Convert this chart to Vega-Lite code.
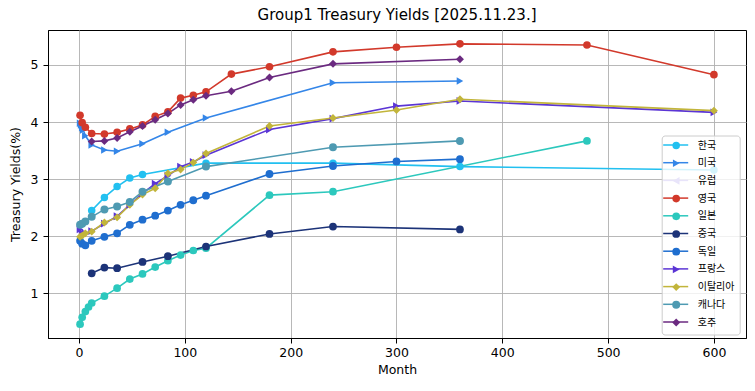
{
 "$schema": "https://vega.github.io/schema/vega-lite/v6.json",
 "width": 698, "height": 308,
 "autosize": {"type": "none"},
 "padding": {"left": 48, "top": 30, "right": 9, "bottom": 53},
 "background": "white",
 "title": {"text": "Group1 Treasury Yields [2025.11.23.]", "fontSize": 15, "font": "DejaVu Sans", "fontWeight": "normal", "color": "black", "offset": 7, "anchor": "middle"},
 "config": {
  "view": {"stroke": "black", "strokeWidth": 1},
  "axis": {"domainColor": "black", "domainWidth": 1, "tickColor": "black", "tickSize": 5, "tickWidth": 1, "grid": true, "gridColor": "#b0b0b0", "gridWidth": 0.9, "labelFont": "DejaVu Sans", "labelFontSize": 12.5, "labelColor": "black", "titleFont": "DejaVu Sans", "titleFontSize": 12.5, "titleFontWeight": "normal", "titleColor": "black"}
 },
 "data": {"values": [
  {"c":"한국","m":12,"y":2.45},{"c":"한국","m":24,"y":2.68},{"c":"한국","m":36,"y":2.87},{"c":"한국","m":48,"y":3.02},{"c":"한국","m":60,"y":3.08},{"c":"한국","m":120,"y":3.28},{"c":"한국","m":240,"y":3.28},{"c":"한국","m":360,"y":3.22},{"c":"한국","m":600,"y":3.16},
  {"c":"미국","m":1,"y":3.98},{"c":"미국","m":2,"y":3.95},{"c":"미국","m":3,"y":3.9},{"c":"미국","m":4,"y":3.86},{"c":"미국","m":6,"y":3.76},{"c":"미국","m":12,"y":3.6},{"c":"미국","m":24,"y":3.51},{"c":"미국","m":36,"y":3.49},{"c":"미국","m":60,"y":3.62},{"c":"미국","m":84,"y":3.82},{"c":"미국","m":120,"y":4.07},{"c":"미국","m":240,"y":4.69},{"c":"미국","m":360,"y":4.72},
  {"c":"영국","m":1,"y":4.12},{"c":"영국","m":3,"y":3.99},{"c":"영국","m":6,"y":3.91},{"c":"영국","m":12,"y":3.8},{"c":"영국","m":24,"y":3.79},{"c":"영국","m":36,"y":3.82},{"c":"영국","m":48,"y":3.88},{"c":"영국","m":60,"y":3.95},{"c":"영국","m":72,"y":4.1},{"c":"영국","m":84,"y":4.18},{"c":"영국","m":96,"y":4.42},{"c":"영국","m":108,"y":4.47},{"c":"영국","m":120,"y":4.53},{"c":"영국","m":144,"y":4.84},{"c":"영국","m":180,"y":4.97},{"c":"영국","m":240,"y":5.23},{"c":"영국","m":300,"y":5.31},{"c":"영국","m":360,"y":5.37},{"c":"영국","m":480,"y":5.35},{"c":"영국","m":600,"y":4.83},
  {"c":"일본","m":1,"y":0.46},{"c":"일본","m":3,"y":0.58},{"c":"일본","m":6,"y":0.68},{"c":"일본","m":9,"y":0.76},{"c":"일본","m":12,"y":0.83},{"c":"일본","m":24,"y":0.95},{"c":"일본","m":36,"y":1.09},{"c":"일본","m":48,"y":1.25},{"c":"일본","m":60,"y":1.34},{"c":"일본","m":72,"y":1.46},{"c":"일본","m":84,"y":1.57},{"c":"일본","m":96,"y":1.67},{"c":"일본","m":108,"y":1.75},{"c":"일본","m":120,"y":1.79},{"c":"일본","m":180,"y":2.72},{"c":"일본","m":240,"y":2.78},{"c":"일본","m":480,"y":3.67},
  {"c":"중국","m":12,"y":1.35},{"c":"중국","m":24,"y":1.45},{"c":"중국","m":36,"y":1.44},{"c":"중국","m":60,"y":1.55},{"c":"중국","m":84,"y":1.65},{"c":"중국","m":120,"y":1.82},{"c":"중국","m":180,"y":2.04},{"c":"중국","m":240,"y":2.17},{"c":"중국","m":360,"y":2.12},
  {"c":"독일","m":1,"y":1.92},{"c":"독일","m":3,"y":1.87},{"c":"독일","m":6,"y":1.84},{"c":"독일","m":12,"y":1.92},{"c":"독일","m":24,"y":1.99},{"c":"독일","m":36,"y":2.05},{"c":"독일","m":48,"y":2.2},{"c":"독일","m":60,"y":2.29},{"c":"독일","m":72,"y":2.36},{"c":"독일","m":84,"y":2.45},{"c":"독일","m":96,"y":2.55},{"c":"독일","m":108,"y":2.63},{"c":"독일","m":120,"y":2.71},{"c":"독일","m":180,"y":3.09},{"c":"독일","m":240,"y":3.23},{"c":"독일","m":300,"y":3.31},{"c":"독일","m":360,"y":3.35},
  {"c":"프랑스","m":1,"y":2.12},{"c":"프랑스","m":3,"y":2.04},{"c":"프랑스","m":6,"y":2.05},{"c":"프랑스","m":12,"y":2.09},{"c":"프랑스","m":24,"y":2.22},{"c":"프랑스","m":36,"y":2.35},{"c":"프랑스","m":48,"y":2.55},{"c":"프랑스","m":60,"y":2.75},{"c":"프랑스","m":72,"y":2.92},{"c":"프랑스","m":84,"y":3.06},{"c":"프랑스","m":96,"y":3.22},{"c":"프랑스","m":108,"y":3.3},{"c":"프랑스","m":120,"y":3.42},{"c":"프랑스","m":180,"y":3.87},{"c":"프랑스","m":240,"y":4.06},{"c":"프랑스","m":300,"y":4.28},{"c":"프랑스","m":360,"y":4.37},{"c":"프랑스","m":600,"y":4.17},
  {"c":"이탈리아","m":1,"y":1.99},{"c":"이탈리아","m":3,"y":2.01},{"c":"이탈리아","m":6,"y":2.05},{"c":"이탈리아","m":12,"y":2.08},{"c":"이탈리아","m":24,"y":2.24},{"c":"이탈리아","m":36,"y":2.33},{"c":"이탈리아","m":48,"y":2.55},{"c":"이탈리아","m":60,"y":2.73},{"c":"이탈리아","m":72,"y":2.84},{"c":"이탈리아","m":84,"y":3.1},{"c":"이탈리아","m":96,"y":3.17},{"c":"이탈리아","m":108,"y":3.29},{"c":"이탈리아","m":120,"y":3.45},{"c":"이탈리아","m":180,"y":3.93},{"c":"이탈리아","m":240,"y":4.07},{"c":"이탈리아","m":300,"y":4.21},{"c":"이탈리아","m":360,"y":4.4},{"c":"이탈리아","m":600,"y":4.2},
  {"c":"캐나다","m":1,"y":2.2},{"c":"캐나다","m":3,"y":2.22},{"c":"캐나다","m":6,"y":2.26},{"c":"캐나다","m":12,"y":2.34},{"c":"캐나다","m":24,"y":2.47},{"c":"캐나다","m":36,"y":2.52},{"c":"캐나다","m":48,"y":2.6},{"c":"캐나다","m":60,"y":2.78},{"c":"캐나다","m":84,"y":2.96},{"c":"캐나다","m":120,"y":3.22},{"c":"캐나다","m":240,"y":3.56},{"c":"캐나다","m":360,"y":3.67},
  {"c":"호주","m":12,"y":3.66},{"c":"호주","m":24,"y":3.67},{"c":"호주","m":36,"y":3.72},{"c":"호주","m":48,"y":3.83},{"c":"호주","m":60,"y":3.93},{"c":"호주","m":72,"y":4.04},{"c":"호주","m":84,"y":4.15},{"c":"호주","m":96,"y":4.3},{"c":"호주","m":108,"y":4.39},{"c":"호주","m":120,"y":4.46},{"c":"호주","m":144,"y":4.54},{"c":"호주","m":180,"y":4.78},{"c":"호주","m":240,"y":5.02},{"c":"호주","m":360,"y":5.1}
 ]},
 "encoding": {
  "x": {"field": "m", "type": "quantitative", "scale": {"domain": [-29.3, 630.3], "nice": false, "zero": false}, "axis": {"values": [0,100,200,300,400,500,600], "title": "Month", "labelPadding": 3, "titlePadding": 5}},
  "y": {"field": "y", "type": "quantitative", "scale": {"domain": [0.217, 5.613], "nice": false, "zero": false}, "axis": {"values": [1,2,3,4,5], "title": "Treasury Yields(%)", "labelPadding": 5, "titlePadding": 8}},
  "color": {"field": "c", "type": "nominal",
   "scale": {"domain": ["한국","미국","유럽","영국","일본","중국","독일","프랑스","이탈리아","캐나다","호주"],
             "range": ["#22c0f0","#3486e8","#e8e4fa","#d2392b","#2cc8bd","#1c3378","#1f6ecf","#5b35d5","#c2b53b","#4e9ab2","#6b2a80"]},
   "legend": {"orient": "none", "legendX": 613.7, "legendY": 105.5, "title": null, "zindex": 1,
     "labelFont": "Noto Sans CJK KR", "labelFontSize": 10, "labelColor": "black",
     "fillColor": "rgba(255,255,255,0.8)", "strokeColor": "#cccccc", "cornerRadius": 3, "padding": 5,
     "symbolSize": 55, "symbolStrokeWidth": 1.5, "symbolOffset": 4.5, "labelOffset": 16.5, "rowPadding": 3.7, "symbolOpacity": 1}}
 },
 "layer": [
  {"mark": {"type": "line", "strokeWidth": 1.6},
   "encoding": {
    "stroke": {"field": "c", "type": "nominal",
     "scale": {"domain": ["한국","미국","유럽","영국","일본","중국","독일","프랑스","이탈리아","캐나다","호주","_"],
               "range": ["#22c0f0","#3486e8","#e8e4fa","#d2392b","#2cc8bd","#1c3378","#1f6ecf","#5b35d5","#c2b53b","#4e9ab2","#6b2a80","transparent"]},
     "legend": {"orient": "none", "legendX": 619.7, "legendY": 107, "title": null, "labelExpr": "''", "zindex": 2,
       "labelFontSize": 10, "labelFont": "Noto Sans CJK KR", "padding": 0, "symbolOffset": 0,
       "symbolType": "M-1.786,0H1.786", "symbolSize": 196, "symbolStrokeWidth": 1.5, "rowPadding": 4.7, "symbolOpacity": 1}}
   }},
  {"mark": {"type": "point", "filled": true, "opacity": 1},
   "encoding": {
    "shape": {"field": "c", "type": "nominal", "scale": {"domain": ["한국","미국","유럽","영국","일본","중국","독일","프랑스","이탈리아","캐나다","호주"], "range": ["circle","triangle-right","triangle-left","circle","circle","circle","circle","triangle-right","diamond","circle","diamond"]}},
    "size": {"field": "c", "type": "nominal", "legend": null, "scale": {"domain": ["한국","미국","유럽","영국","일본","중국","독일","프랑스","이탈리아","캐나다","호주"], "range": [56,64,64,56,56,56,56,64,95,56,95]}}
   }}
 ]
}
